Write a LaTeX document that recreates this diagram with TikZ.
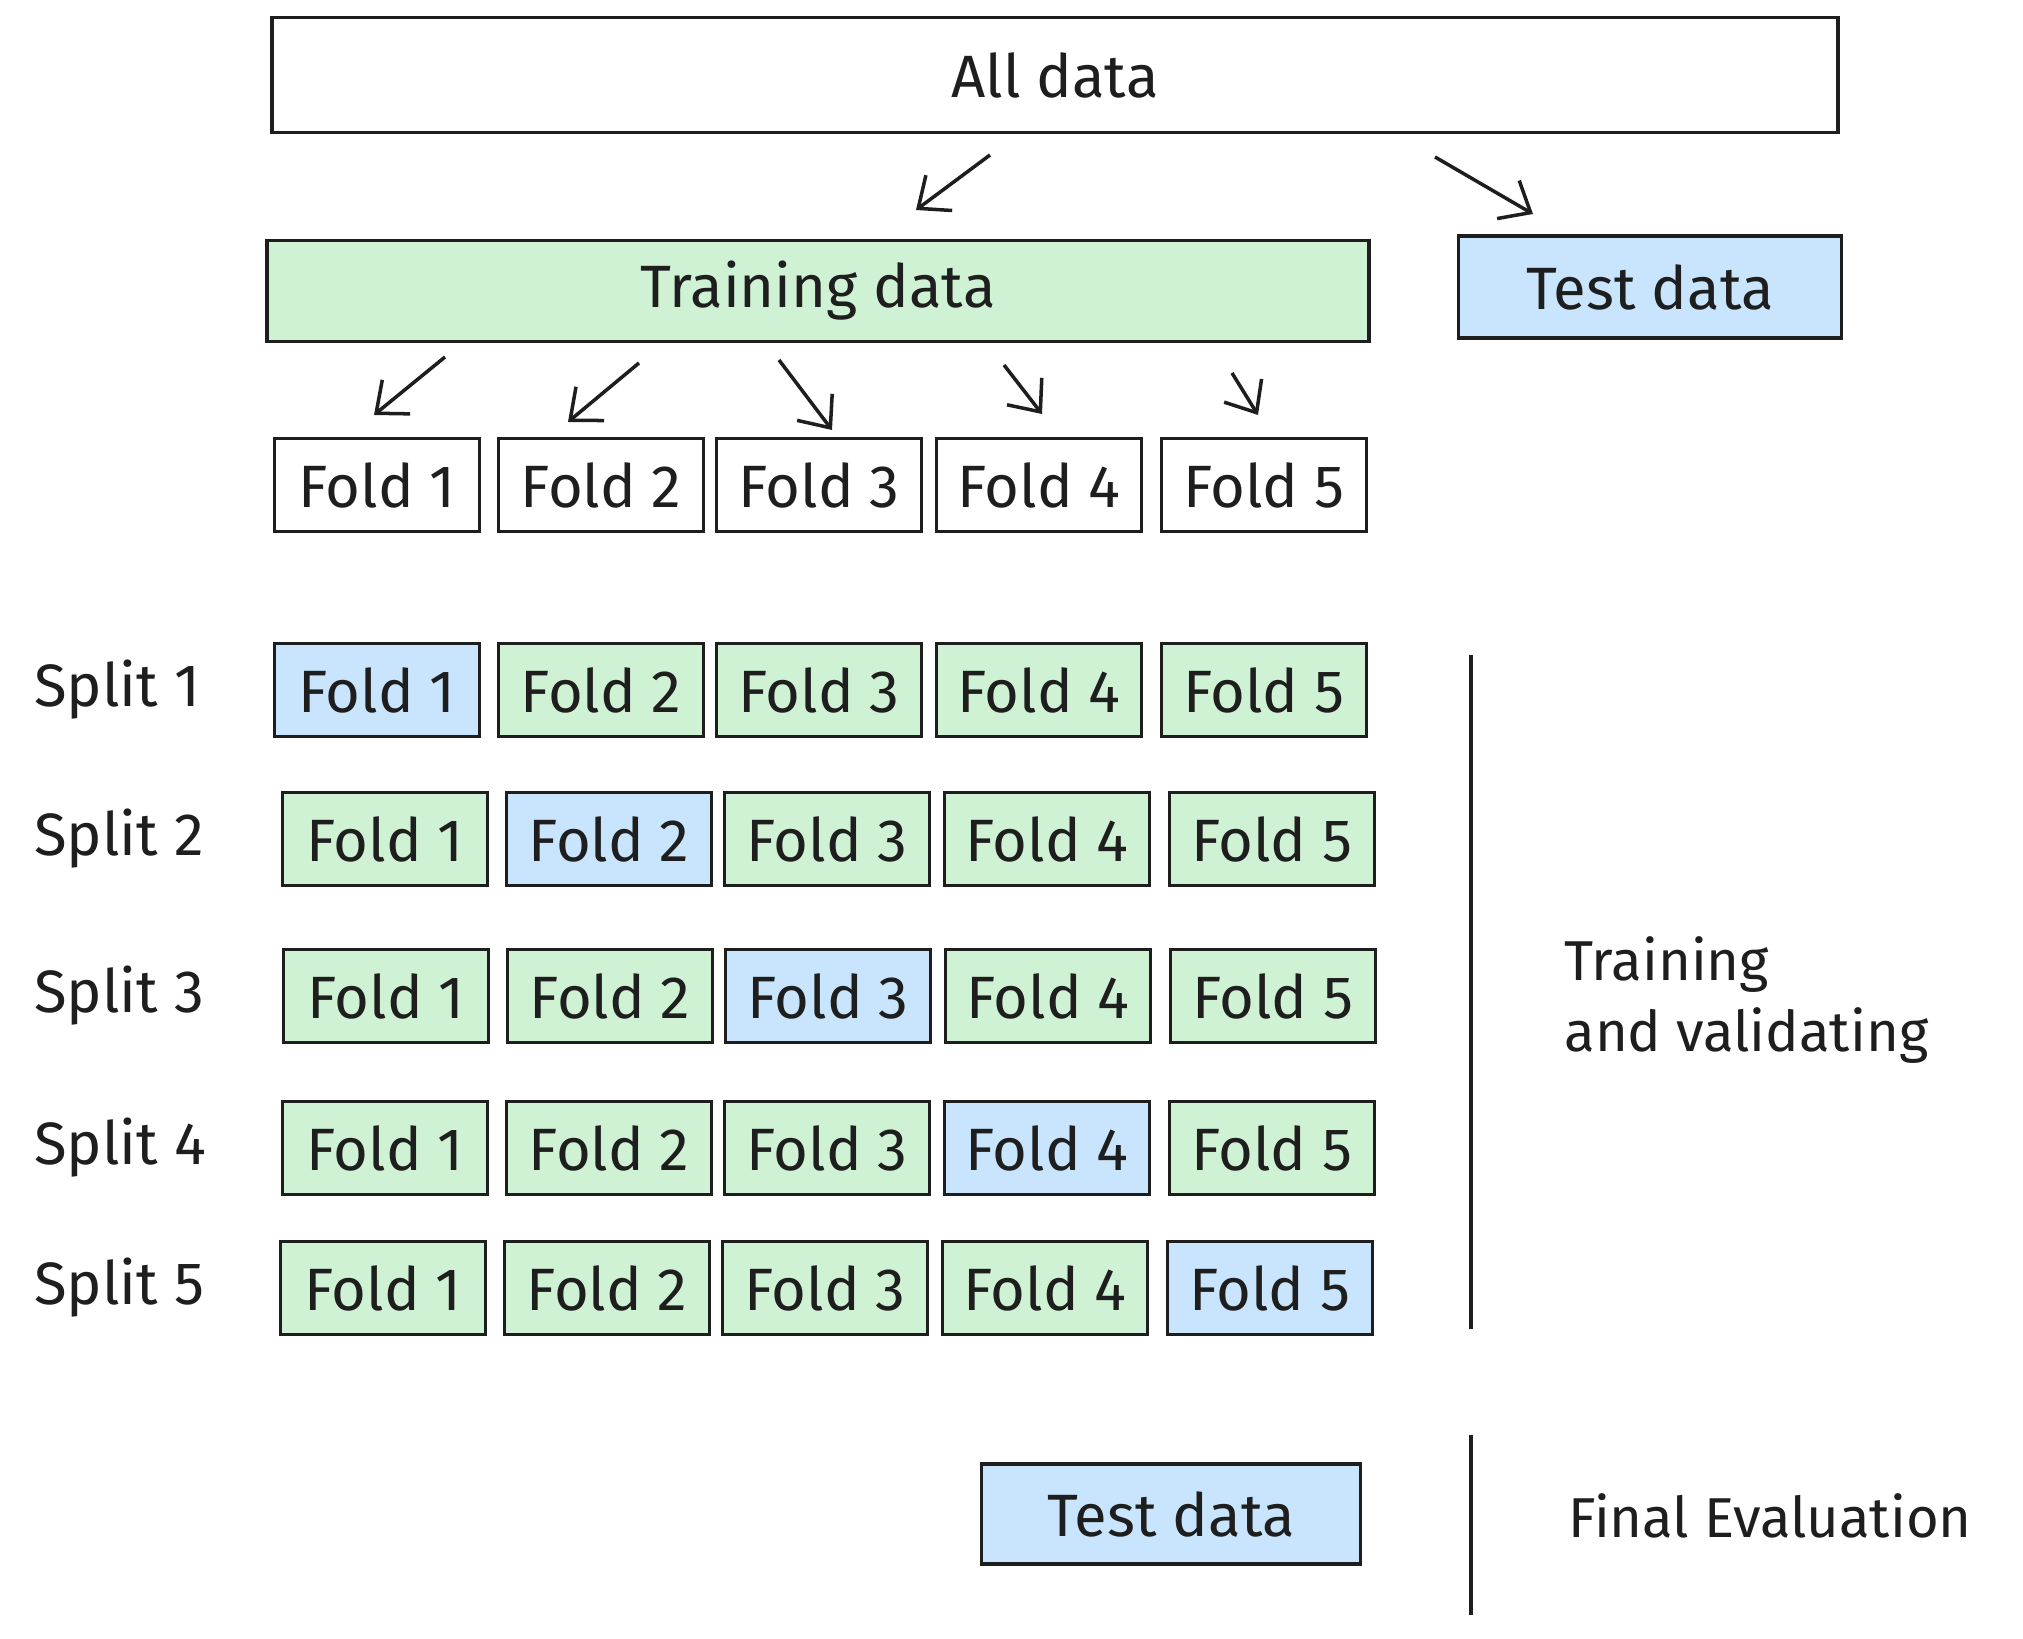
\documentclass[tikz,border=0pt]{standalone}
\usepackage{fontspec}
\setmainfont{Fira Sans}
\usetikzlibrary{arrows.meta,positioning}
\definecolor{trainfill}{HTML}{CFF2D4}
\definecolor{testfill}{HTML}{C8E5FD}
\definecolor{inkline}{HTML}{1E1E1E}
\tikzset{
  every node/.style={text=inkline},
  box/.style={rectangle, draw=inkline, line width=1.1pt, inner sep=0pt,
    font=\fontsize{17}{20}\selectfont},
  plainbox/.style={box, fill=white},
  trainbox/.style={box, fill=trainfill},
  testbox/.style={box, fill=testfill},
  foldbox/.style={minimum width=2.05cm, minimum height=0.93cm},
  flow/.style={-{Straight Barb[length=2.6mm,width=4.4mm]}, line width=1pt,
    draw=inkline},
  splitlabel/.style={font=\fontsize{17}{20}\selectfont, anchor=west},
  phase/.style={font=\fontsize{16}{20}\selectfont, align=left, anchor=west},
  divider/.style={line width=1pt, draw=inkline},
}

\begin{document}
\begin{tikzpicture}[x=0.1mm,y=-0.1mm]
\useasboundingbox (0,0) rectangle (2023,1639);

% ---- Whole data set and its split -----------------------------------------
\node[plainbox, minimum width=15.66cm, minimum height=1.15cm] (all) at (1055,75) {All data};
\node[trainbox, minimum width=11.02cm, minimum height=1.01cm] (train) at (818,291) {Training data};
\node[testbox, minimum width=3.83cm, minimum height=1.02cm] (test) at (1650,287) {Test data};

\coordinate (alltrain) at (990,155);
\coordinate (traintip) at (916,210);
\coordinate (alltest) at (1435,157);
\coordinate (testtip) at (1533,214);
\draw[flow] (alltrain) -- (traintip);
\draw[flow] (alltest) -- (testtip);

% ---- Folds -----------------------------------------------------------------
\foreach \c/\x in {1/377,2/601,3/819,4/1039,5/1264}
  \node[plainbox, foldbox] (f\c) at (\x,485) {Fold \c};

\foreach \c/\xa/\ya/\xb/\yb in {1/445/357/374/415, 2/639/363/568/422,
    3/779/360/832/430, 4/1004/365/1042/414, 5/1232/373/1258/415} {
  \coordinate (fs\c) at (\xa,\ya);
  \coordinate (ft\c) at (\xb,\yb);
  \draw[flow] (fs\c) -- (ft\c);
}

% ---- Splits ----------------------------------------------------------------
\foreach \r/\y/\dx in {1/690/0, 2/839/8, 3/996/9, 4/1148/8, 5/1288/6} {
  \node[splitlabel] (split\r) at (22,\y) {Split \r};
  \foreach \c/\x in {1/377,2/601,3/819,4/1039,5/1264} {
    \def\sty{trainbox}
    \ifnum\c=\r \def\sty{testbox}\fi
    \node[\sty, foldbox] (s\r f\c) at (\x+\dx,\y) {Fold \c};
  }
}

% ---- Phases ----------------------------------------------------------------
\coordinate (tvtop) at (1471,655);
\coordinate (tvbot) at (1471,1329);
\draw[divider] (tvtop) -- (tvbot);
\node[phase] (tv) at (1552,1000) {Training\\and validating};

\node[testbox, minimum width=3.79cm, minimum height=1.0cm] (final) at (1171,1514) {Test data};
\coordinate (fetop) at (1471,1435);
\coordinate (febot) at (1471,1615);
\draw[divider] (fetop) -- (febot);
\node[phase] (fe) at (1556,1516) {Final Evaluation};

\end{tikzpicture}
\end{document}
